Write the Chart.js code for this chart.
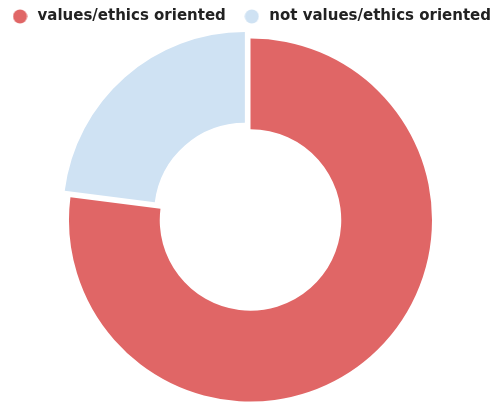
<!DOCTYPE html>
<html>
<head>
<meta charset="utf-8">
<script src="https://cdn.jsdelivr.net/npm/chart.js@4/dist/chart.umd.min.js"></script>
<style>
html,body{margin:0;padding:0;background:#fff;}
#wrap{width:490px;height:404px;position:relative;}
</style>
</head>
<body>
<div id="wrap"><canvas id="c" width="490" height="404"></canvas></div>
<script>
const categories = ["values/ethics oriented", "not values/ethics oriented"];
const values = [77, 23];
const colors = ["#e06666", "#cfe2f3"];
const offsets = [0, 34];

function makeDot(color) {
  const cv = document.createElement('canvas');
  cv.width = 15; cv.height = 15;
  const g = cv.getContext('2d');
  g.fillStyle = color;
  g.beginPath();
  g.arc(7.5, 7.5, 7, 0, Math.PI * 2);
  g.fill();
  return cv;
}

// invisible layout boxes that nudge the chart area (left / top)
const spacerPlugin = {
  id: 'spacer',
  beforeInit(chart) {
    const sizes = { left: 18.5, top: 2 };
    Object.keys(sizes).forEach(pos => {
      const size = sizes[pos];
      Chart.layouts.addBox(chart, {
        position: pos, weight: 0, fullSize: false,
        options: {},
        left: 0, top: 0, right: 0, bottom: 0, width: 0, height: 0,
        isHorizontal() { return pos === 'top'; },
        getPadding() { return { left: 0, top: 0, right: 0, bottom: 0 }; },
        update(maxWidth, maxHeight) {
          if (pos === 'top') { this.width = maxWidth; this.height = size; }
          else { this.width = size; this.height = maxHeight; }
          return { width: this.width, height: this.height };
        },
        draw() {}
      });
    });
  }
};

new Chart(document.getElementById('c'), {
  type: 'doughnut',
  data: {
    labels: categories,
    datasets: [{
      data: values,
      backgroundColor: colors,
      borderColor: '#ffffff',
      borderWidth: 0,
      offset: offsets
    }]
  },
  options: {
    responsive: false,
    animation: false,
    radius: 181.5,
    cutout: '50%',
    layout: { padding: { left: -7.5, right: -18.5, top: -7, bottom: 0 } },
    plugins: {
      tooltip: { enabled: false },
      legend: {
        position: 'top',
        labels: {
          usePointStyle: true,
          pointStyleWidth: 20,
          boxHeight: 10,
          padding: 16,
          color: '#222222',
          font: { family: 'DejaVu Sans', size: 15, weight: 'bold' },
          generateLabels(chart) {
            const items = Chart.controllers.doughnut.overrides.plugins.legend.labels.generateLabels(chart);
            items.forEach(it => { it.pointStyle = makeDot(it.fillStyle); });
            return items;
          }
        }
      }
    }
  },
  plugins: [spacerPlugin]
});
</script>
</body>
</html>
